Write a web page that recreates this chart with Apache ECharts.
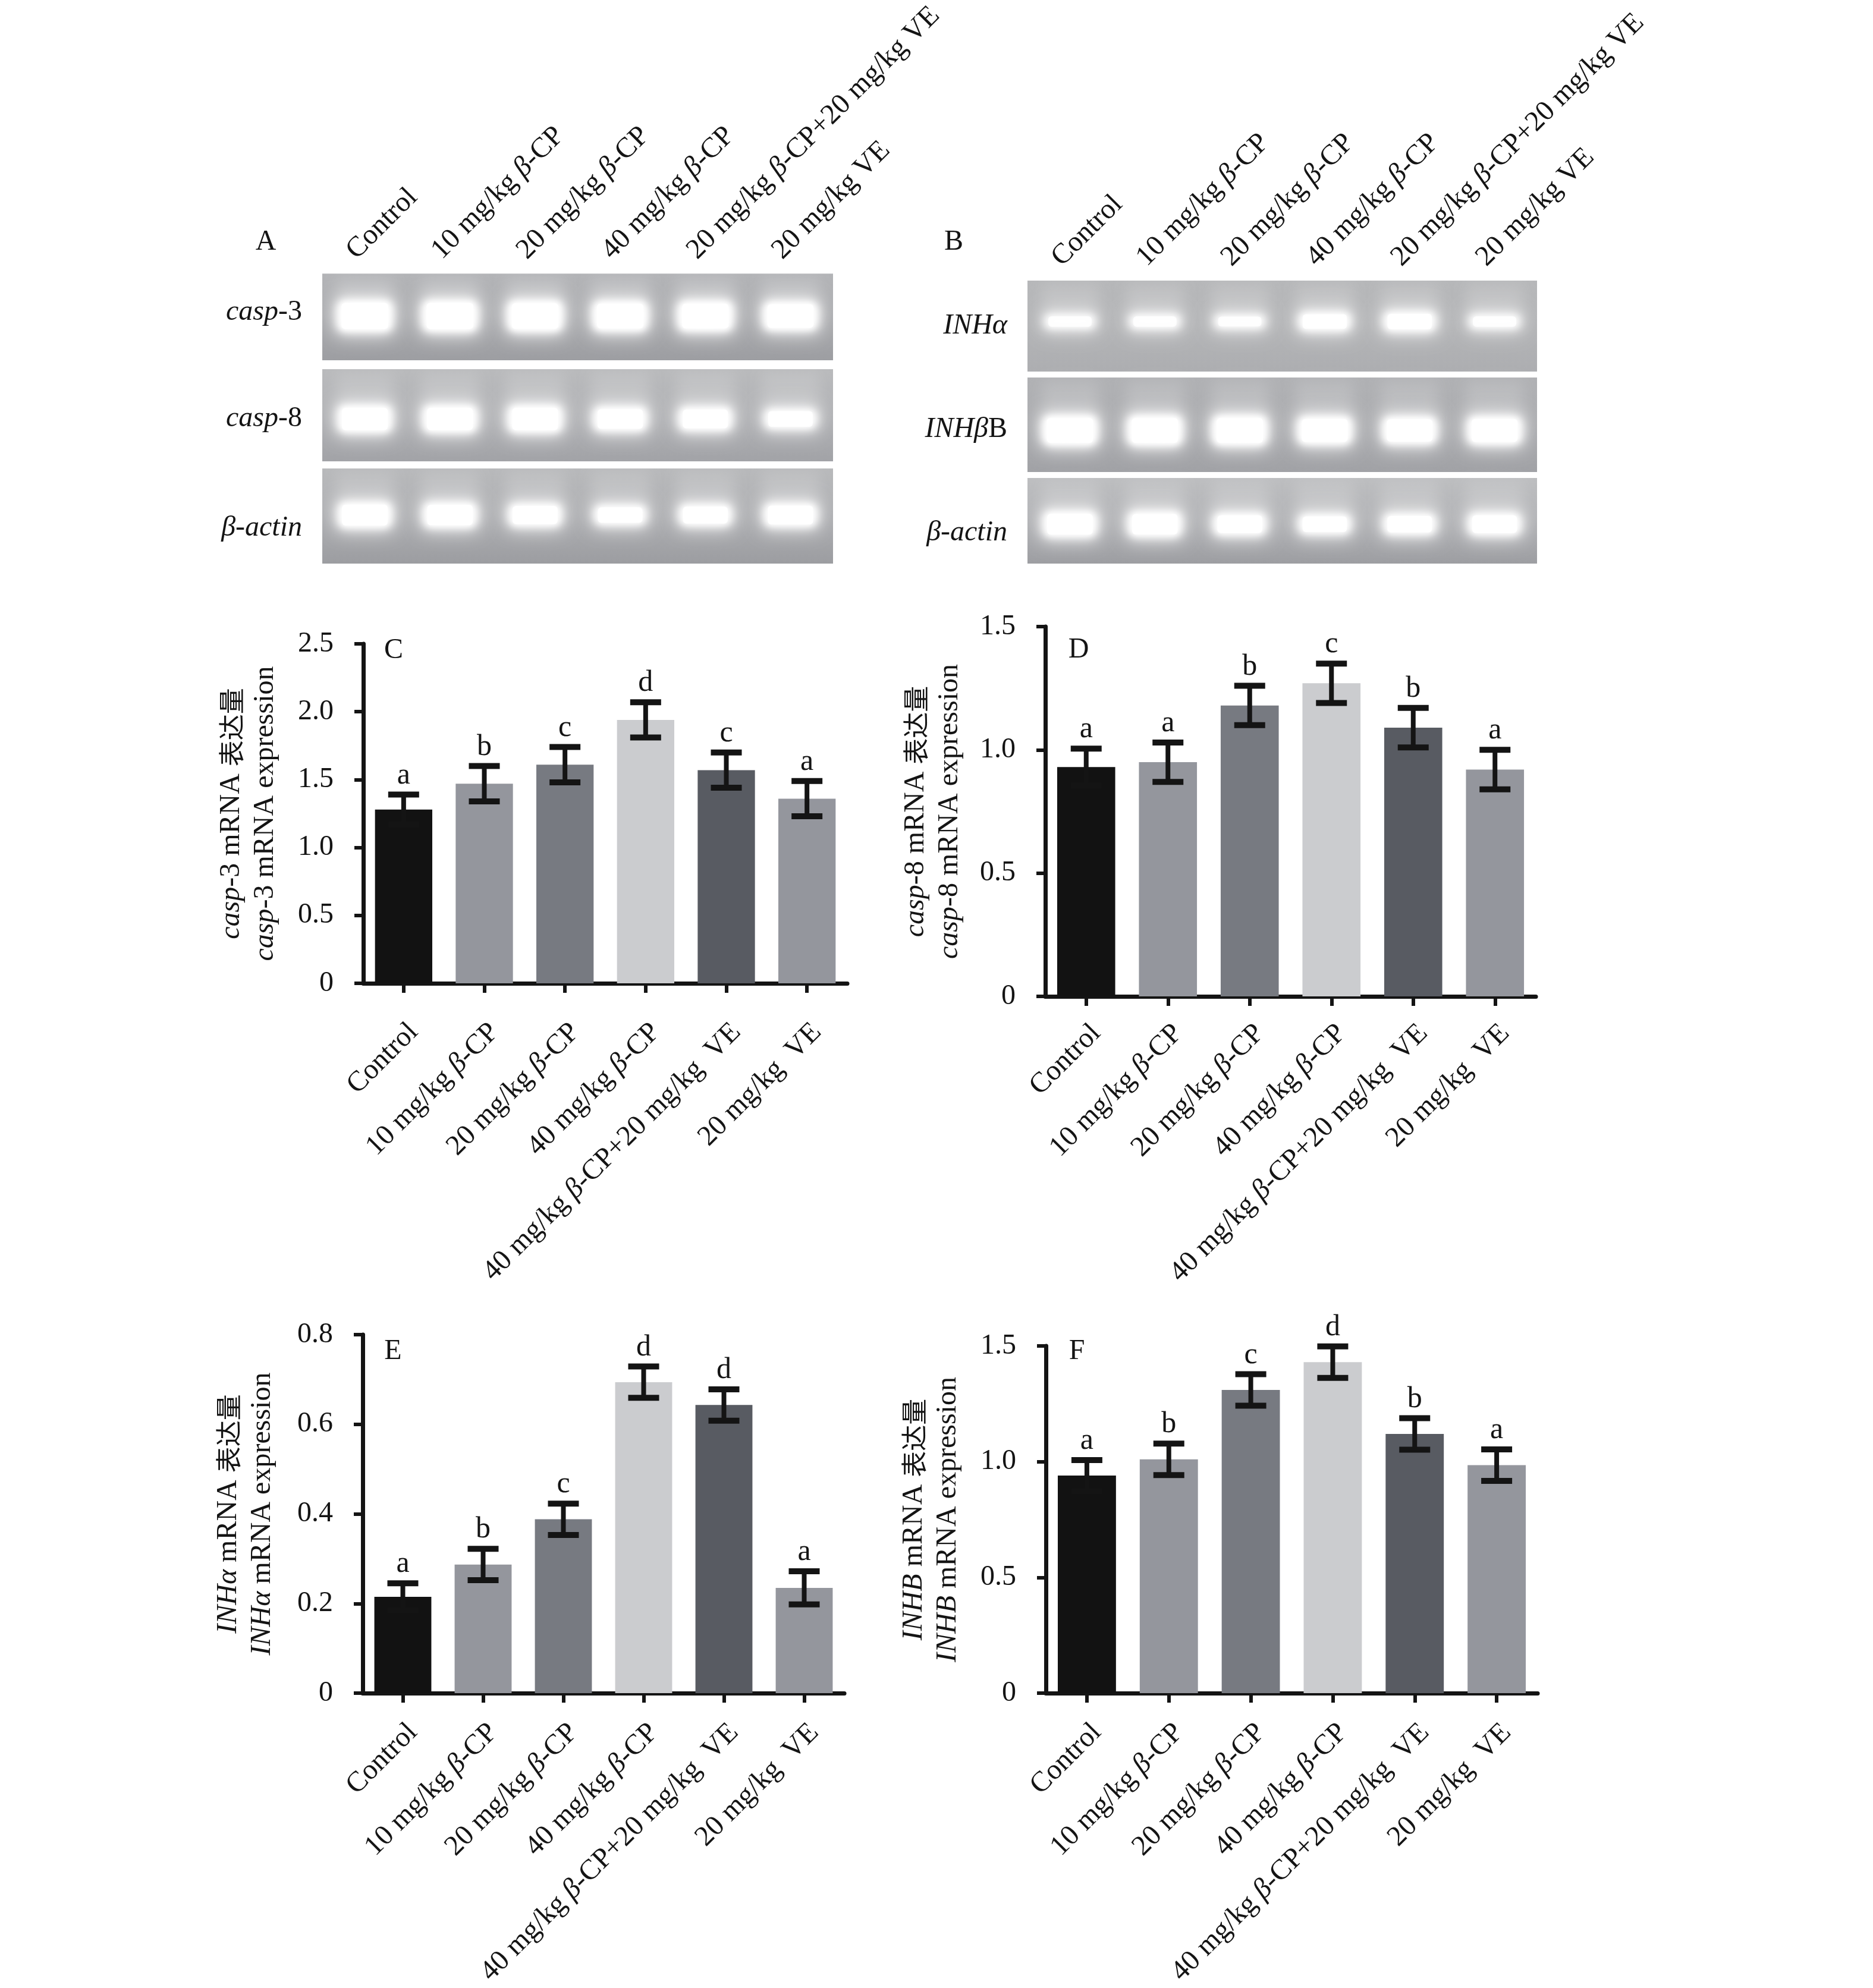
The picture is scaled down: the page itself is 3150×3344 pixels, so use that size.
<!DOCTYPE html>
<html><head><meta charset="utf-8">
<script src="https://cdn.jsdelivr.net/npm/echarts@6/dist/echarts.min.js"></script>
<style>html,body{margin:0;padding:0;background:#fff}#c{width:3150px;height:3344px}</style>
</head><body><div id="c"></div>
<script>
// ---------------- data ----------------
const groups = ['Control', '10 mg/kg β-CP', '20 mg/kg β-CP', '40 mg/kg β-CP', '40 mg/kg β-CP+20 mg/kg  VE', '20 mg/kg  VE'];
const gelLanes = ['Control', '10 mg/kg β-CP', '20 mg/kg β-CP', '40 mg/kg β-CP', '20 mg/kg β-CP+20 mg/kg VE', '20 mg/kg VE'];

const casp3Mean = [1.28, 1.47, 1.61, 1.94, 1.57, 1.36];
const casp3Err  = [0.11, 0.13, 0.13, 0.13, 0.13, 0.13];
const casp3Sig  = ['a', 'b', 'c', 'd', 'c', 'a'];

const casp8Mean = [0.93, 0.95, 1.18, 1.27, 1.09, 0.92];
const casp8Err  = [0.075, 0.08, 0.08, 0.08, 0.08, 0.08];
const casp8Sig  = ['a', 'a', 'b', 'c', 'b', 'a'];

const inhaMean = [0.215, 0.287, 0.388, 0.694, 0.643, 0.235];
const inhaErr  = [0.03, 0.035, 0.035, 0.035, 0.035, 0.037];
const inhaSig  = ['a', 'b', 'c', 'd', 'd', 'a'];

const inhbMean = [0.94, 1.01, 1.31, 1.43, 1.12, 0.985];
const inhbErr  = [0.067, 0.068, 0.068, 0.068, 0.068, 0.068];
const inhbSig  = ['a', 'b', 'c', 'd', 'b', 'a'];

const ticksC = [0, 0.5, 1.0, 1.5, 2.0, 2.5];
const ticksD = [0, 0.5, 1.0, 1.5];
const ticksE = [0, 0.2, 0.4, 0.6, 0.8];
const ticksF = [0, 0.5, 1.0, 1.5];

// gel band relative intensities (0..1)
const gelCasp3 = [1.0, 1.0, 0.98, 0.95, 0.95, 0.9];
const gelCasp8 = [0.85, 0.85, 0.85, 0.75, 0.72, 0.6];
const gelActinA = [0.8, 0.78, 0.7, 0.6, 0.65, 0.72];
const gelInha = [0.4, 0.4, 0.38, 0.56, 0.6, 0.4];
const gelInhbb = [0.95, 0.95, 0.95, 0.88, 0.85, 0.88];
const gelActinB = [0.8, 0.78, 0.68, 0.6, 0.64, 0.68];

// ---------------- styles ----------------
const SERIF = "'Liberation Serif', 'Times New Roman', serif";
const CJK = "'Noto Sans CJK SC', sans-serif";
const INK = '#141414';
const barColors = ['#121212', '#94969d', '#777a81', '#cbcccf', '#585b62', '#94969d'];
const FS = 48;
const richBase = {
  i: { fontStyle: 'italic', fontFamily: SERIF, fontSize: FS, color: INK },
  b: { fontStyle: 'italic', fontFamily: SERIF, fontSize: FS, color: INK },
  z: { fontFamily: CJK, fontSize: 44, color: INK }
};
const betaFmt = v => v.replace(/β/g, '{b|β}');

const chart = echarts.init(document.getElementById('c'), null, { renderer: 'canvas', width: 3150, height: 3344, devicePixelRatio: 1 });

const grid = [], xAxis = [], yAxis = [], series = [], graphic = [];

// ---------------- gel strips ----------------
const gelStrips = [
  { left: 542, top: 456, width: 859, height: 150, yc: 0.51, data: gelCasp3, name: '{i|casp}-3', pad: [0, 0, 16, 0], lbl: true, bg: ['#b3b4b7', '#aaabae', '#9d9ea2'] },
  { left: 542, top: 621, width: 859, height: 155, yc: 0.46, data: gelCasp8, name: '{i|casp}-8', pad: [12, 0, 0, 0], bg: ['#b9babc', '#b0b1b4', '#a2a3a7'] },
  { left: 542, top: 788, width: 859, height: 160, yc: 0.51, data: gelActinA, name: '{i|β-actin}', pad: [40, 0, 0, 0], bg: ['#b8b9bb', '#adaeb1', '#9c9da1'] },
  { left: 1728, top: 472, width: 857, height: 153, yc: 0.55, data: gelInha, name: '{i|INHα}', pad: [0, 0, 0, 0], lbl: true, bg: ['#b6b7b9', '#b3b4b6', '#adaeb1'] },
  { left: 1728, top: 635, width: 857, height: 159, yc: 0.44, data: gelInhbb, name: '{i|INHβ}B', pad: [16, 0, 0, 0], bg: ['#b0b1b4', '#aaabae', '#a1a2a6'] },
  { left: 1728, top: 804, width: 857, height: 144, yc: 0.46, data: gelActinB, name: '{i|β-actin}', pad: [40, 0, 0, 0], bg: ['#bdbec0', '#b0b1b4', '#9d9ea2'] }
];

gelStrips.forEach(s => {
  const gi = grid.length;
  grid.push({
    left: s.left, top: s.top, width: s.width, height: s.height, show: true, borderWidth: 0,
    backgroundColor: { type: 'linear', x: 0, y: 0, x2: 0, y2: 1, colorStops: [
      { offset: 0, color: s.bg[0] }, { offset: 0.5, color: s.bg[1] }, { offset: 1, color: s.bg[2] }] }
  });
  xAxis.push({
    type: 'category', gridIndex: gi, data: gelLanes, position: 'top', boundaryGap: true,
    axisLine: { show: false }, axisTick: { show: false }, splitLine: { show: false },
    axisLabel: s.lbl ? {
      show: true, interval: 0, rotate: 45, margin: 9, verticalAlign: 'bottom', padding: [0, 0, 8, 0],
      fontFamily: SERIF, fontSize: FS, color: INK, formatter: betaFmt, rich: richBase
    } : { show: false }
  });
  yAxis.push({
    type: 'value', gridIndex: gi, min: 0, max: 1,
    axisLine: { show: false }, axisTick: { show: false }, axisLabel: { show: false }, splitLine: { show: false },
    name: s.name, nameLocation: 'middle', nameRotate: 0, nameGap: 34,
    nameTextStyle: { fontFamily: SERIF, fontSize: FS, color: INK, align: 'right', verticalAlign: 'middle', padding: s.pad, rich: richBase }
  });
  const yc = s.yc;
  series.push({
    type: 'custom', xAxisIndex: gi, yAxisIndex: gi, silent: true, clip: false,
    data: s.data.map((v, i) => [i, v]),
    renderItem: (params, api) => {
      const i = api.value(0), v = api.value(1);
      const c = api.coord([i, yc]);
      const lane = api.size([1, 0])[0];
      const top = api.coord([i, 1])[1];
      const w = lane * (0.6 + 0.06 * v);
      const h = 10 + 44 * v;
      const a = 0.66 + 0.34 * v;
      const OFF = 20000;
      return {
        type: 'group', children: [
          // faint lighter lane column (well smear), blurred
          { type: 'rect', shape: { x: c[0] - lane * 0.34 - OFF, y: top + 6, width: lane * 0.68, height: (c[1] - top) },
            style: { fill: '#fff', shadowBlur: 22, shadowColor: 'rgba(255,255,255,0.16)', shadowOffsetX: OFF } },
          // soft outer glow of band
          { type: 'rect', shape: { x: c[0] - w / 2 - 4 - OFF, y: c[1] - h / 2 - 6, width: w + 8, height: h + 12, r: 14 },
            style: { fill: '#fff', shadowBlur: 30, shadowColor: 'rgba(255,255,255,' + (0.4 + 0.4 * v) + ')', shadowOffsetX: OFF } },
          // blurred band body
          { type: 'rect', shape: { x: c[0] - w / 2 - OFF, y: c[1] - h / 2, width: w, height: h, r: Math.min(14, h * 0.4) },
            style: { fill: '#fff', shadowBlur: 14, shadowColor: 'rgba(255,255,255,' + a + ')', shadowOffsetX: OFF } },
          // bright core
          { type: 'rect', shape: { x: c[0] - w / 2 + 8, y: c[1] - h / 2 + 5, width: w - 16, height: Math.max(4, h - 10), r: 6 },
            style: { fill: 'rgba(255,255,255,' + a + ')', shadowBlur: 8, shadowColor: 'rgba(255,255,255,' + a + ')' } }
        ]
      };
    }
  });
});

// ---------------- bar panels ----------------
function barPanel(cfg) {
  const gi = grid.length;
  grid.push({ left: cfg.left, top: cfg.top, width: cfg.width, height: cfg.height, show: false });
  xAxis.push({
    type: 'category', gridIndex: gi, data: groups, boundaryGap: true,
    axisLine: { show: true, lineStyle: { color: INK, width: 7 } },
    axisTick: { show: true, alignWithLabel: true, length: 16, lineStyle: { color: INK, width: 6 } },
    axisLabel: {
      show: true, interval: 0, rotate: 45, margin: cfg.xMargin, align: 'right', verticalAlign: 'top',
      fontFamily: SERIF, fontSize: FS, color: INK, formatter: betaFmt, rich: richBase
    },
    splitLine: { show: false }
  });
  yAxis.push({
    type: 'value', gridIndex: gi, min: 0, max: cfg.ticks[cfg.ticks.length - 1], interval: cfg.ticks[1] - cfg.ticks[0],
    axisLine: { show: true, lineStyle: { color: INK, width: 7 } },
    axisTick: { show: true, length: 15, lineStyle: { color: INK, width: 6 } },
    axisLabel: { show: true, margin: 50, fontFamily: SERIF, fontSize: FS, color: INK,
      formatter: v => (v === 0 ? '0' : v.toFixed(1)) },
    splitLine: { show: false },
    name: cfg.yName, nameLocation: 'middle', nameRotate: 90, nameGap: cfg.nameGap,
    nameTextStyle: { fontFamily: SERIF, fontSize: FS, color: INK, lineHeight: 57, rich: {
      i: { fontStyle: 'italic', fontFamily: SERIF, fontSize: FS, color: INK, lineHeight: 57 },
      n: { fontFamily: SERIF, fontSize: FS, color: INK, lineHeight: 57 },
      z: { fontFamily: CJK, fontSize: 44, color: INK, lineHeight: 57 } } }
  });
  series.push({
    type: 'bar', xAxisIndex: gi, yAxisIndex: gi, barWidth: '71%', silent: true,
    data: cfg.mean.map((v, i) => ({ value: v, itemStyle: { color: barColors[i] } }))
  });
  const sig = cfg.sig;
  series.push({
    type: 'custom', xAxisIndex: gi, yAxisIndex: gi, silent: true, z: 5,
    data: cfg.mean.map((m, i) => [i, m, cfg.err[i]]),
    renderItem: (params, api) => {
      const i = api.value(0), m = api.value(1), e = api.value(2);
      const t = api.coord([i, m + e]), b = api.coord([i, m - e]);
      const x = t[0], capW = 52, capH = 10, stemW = 8;
      return {
        type: 'group', children: [
          { type: 'rect', shape: { x: x - stemW / 2, y: t[1], width: stemW, height: b[1] - t[1] }, style: { fill: INK } },
          { type: 'rect', shape: { x: x - capW / 2, y: t[1] - capH / 2, width: capW, height: capH }, style: { fill: INK } },
          { type: 'rect', shape: { x: x - capW / 2, y: b[1] - capH / 2, width: capW, height: capH }, style: { fill: INK } },
          { type: 'text', x: x, y: t[1] - capH / 2 - 2, style: { text: sig[i], fontFamily: SERIF, fontSize: 50, fill: INK, align: 'center', verticalAlign: 'bottom' } }
        ]
      };
    }
  });
}

barPanel({ left: 611, top: 1083, width: 814, height: 571, ticks: ticksC, mean: casp3Mean, err: casp3Err, sig: casp3Sig,
  xMargin: 58, nameGap: 136, yName: '{i|casp}{n|-3 mRNA }{z|表达量}\n{i|casp}{n|-3 mRNA expression}' });
barPanel({ left: 1758, top: 1054, width: 825, height: 622, ticks: ticksD, mean: casp8Mean, err: casp8Err, sig: casp8Sig,
  xMargin: 38, nameGap: 132, yName: '{i|casp}{n|-8 mRNA }{z|表达量}\n{i|casp}{n|-8 mRNA expression}' });
barPanel({ left: 610, top: 2245, width: 810, height: 615, ticks: ticksE, mean: inhaMean, err: inhaErr, sig: inhaSig,
  xMargin: 42, nameGap: 140, yName: '{i|INHα}{n| mRNA }{z|表达量}\n{i|INHα}{n| mRNA expression}' });
barPanel({ left: 1759, top: 2264, width: 827, height: 596, ticks: ticksF, mean: inhbMean, err: inhbErr, sig: inhbSig,
  xMargin: 42, nameGap: 136, yName: '{i|INHB}{n| mRNA }{z|表达量}\n{i|INHB}{n| mRNA expression}' });

// ---------------- panel letters ----------------
const letters = [['A', 447, 407], ['B', 1604, 407], ['C', 662, 1094], ['D', 1814, 1093], ['E', 661, 2273], ['F', 1811, 2273]];
letters.forEach(l => graphic.push({ type: 'text', x: l[1], y: l[2], style: { text: l[0], fontFamily: SERIF, fontSize: FS, fill: INK, align: 'center', verticalAlign: 'middle' } }));

chart.setOption({ backgroundColor: '#ffffff', animation: false, grid, xAxis, yAxis, series, graphic });
</script>
</body></html>
